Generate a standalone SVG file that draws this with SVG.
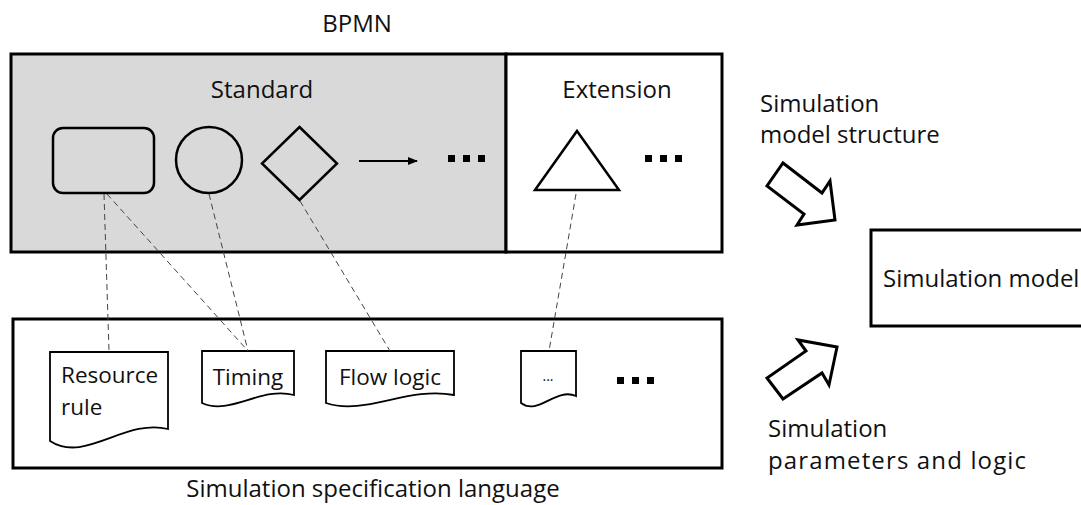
<svg xmlns="http://www.w3.org/2000/svg" width="1081" height="505" viewBox="0 0 1081 505">
<defs>
<style>
.t{font-family:"Open Sans","Noto Sans","Liberation Sans",sans-serif;font-size:24px;fill:#111}
.d{font-size:22.5px}
.box{fill:none;stroke:#000;stroke-width:3}
.sh{fill:none;stroke:#000;stroke-width:2.5}
.doc{fill:#fff;stroke:#000;stroke-width:1.8}
.dash{fill:none;stroke:#444;stroke-width:1;stroke-dasharray:6 4}
.big{fill:#fff;stroke:#000;stroke-width:3;stroke-linejoin:miter}
.dot{fill:#000}
</style>
<marker id="ah" markerWidth="10" markerHeight="8" refX="9" refY="4" orient="auto" markerUnits="userSpaceOnUse">
<path d="M0,0 L10,4 L0,8 Z" fill="#000"/>
</marker>
</defs>
<rect width="1081" height="505" fill="#fff"/>
<text class="t" x="357" y="32" text-anchor="middle">BPMN</text>

<g id="bpmn-standard">
<rect x="11" y="54" width="495" height="198" fill="#d9d9d9" stroke="#000" stroke-width="3"/>
<text class="t" x="262" y="98" text-anchor="middle">Standard</text>
</g>
<g id="bpmn-extension">
<rect x="506" y="54" width="216" height="198" fill="#fff" stroke="#000" stroke-width="3"/>
<text class="t" x="617" y="98" text-anchor="middle">Extension</text>
</g>

<g id="task"><rect class="sh" x="53" y="128" width="101" height="65" rx="10"/></g>
<g id="event"><circle class="sh" cx="209" cy="160" r="33"/></g>
<g id="gateway"><path class="sh" d="M299.5,127 L337,163.5 L299.5,200 L262,163.5 Z"/></g>
<g id="flow"><line x1="359" y1="161" x2="417" y2="161" stroke="#000" stroke-width="2" marker-end="url(#ah)"/></g>
<g id="std-more">
<rect class="dot" x="448" y="155" width="7" height="7"/><rect class="dot" x="463" y="155" width="7" height="7"/><rect class="dot" x="478" y="155" width="7" height="7"/>
</g>
<g id="ext-triangle"><path class="sh" d="M577,131 L619,190 L535,190 Z"/></g>
<g id="ext-more">
<rect class="dot" x="645" y="155" width="7" height="7"/><rect class="dot" x="660" y="155" width="7" height="7"/><rect class="dot" x="675" y="155" width="7" height="7"/>
</g>

<g id="spec-lang">
<rect class="box" x="13" y="319" width="709" height="149" fill="#fff"/>
<text class="t" x="373" y="497" text-anchor="middle">Simulation specification language</text>
</g>

<g id="doc-resource">
<path class="doc" d="M50,352 H168 V429 C125,418 85,464 50,441 Z"/>
<text class="t d" x="61" y="383">Resource</text>
<text class="t d" x="61" y="415">rule</text>
</g>
<g id="doc-timing">
<path class="doc" d="M202,351 H294 V395 C261,386 230,416 202,403 Z"/>
<text class="t d" x="248" y="385" text-anchor="middle">Timing</text>
</g>
<g id="doc-flow">
<path class="doc" d="M326,351 H454 V395 C408,386 365,416 326,403 Z"/>
<text class="t d" x="390" y="385" text-anchor="middle">Flow logic</text>
</g>
<g id="doc-etc">
<path class="doc" d="M521,351 H576 V396 C556,387 538,416 521,403 Z"/>
<text class="t" x="548" y="381" text-anchor="middle" style="font-size:14px">...</text>
</g>
<g id="spec-more">
<rect class="dot" x="617" y="377" width="7" height="7"/><rect class="dot" x="632" y="377" width="7" height="7"/><rect class="dot" x="647" y="377" width="7" height="7"/>
</g>

<g id="connectors">
<line class="dash" x1="104" y1="194" x2="109" y2="351"/>
<line class="dash" x1="107" y1="194" x2="248" y2="351"/>
<line class="dash" x1="209" y1="194" x2="248" y2="351"/>
<line class="dash" x1="300" y1="201" x2="390" y2="351"/>
<line class="dash" x1="576" y1="194" x2="549" y2="351"/>
</g>

<g id="label-structure">
<text class="t" x="760" y="112">Simulation</text>
<text class="t" x="760" y="143">model structure</text>
</g>
<g id="arrow-structure">
<path class="big" d="M783,163 L822,193 L830,181 L835,220 L797,225 L804,214 L767,186 Z"/>
</g>
<g id="sim-model">
<rect x="871" y="230" width="230" height="96" fill="#fff" stroke="#000" stroke-width="3"/>
<text class="t" x="883" y="287">Simulation model</text>
</g>
<g id="arrow-params">
<path class="big" d="M767,378 L783,399 L822,373 L829,385 L837,347 L798,340 L806,351 Z"/>
</g>
<g id="label-params">
<text class="t" x="768" y="437">Simulation</text>
<text class="t" x="768" y="469" textLength="258" lengthAdjust="spacing">parameters and logic</text>
</g>
</svg>
